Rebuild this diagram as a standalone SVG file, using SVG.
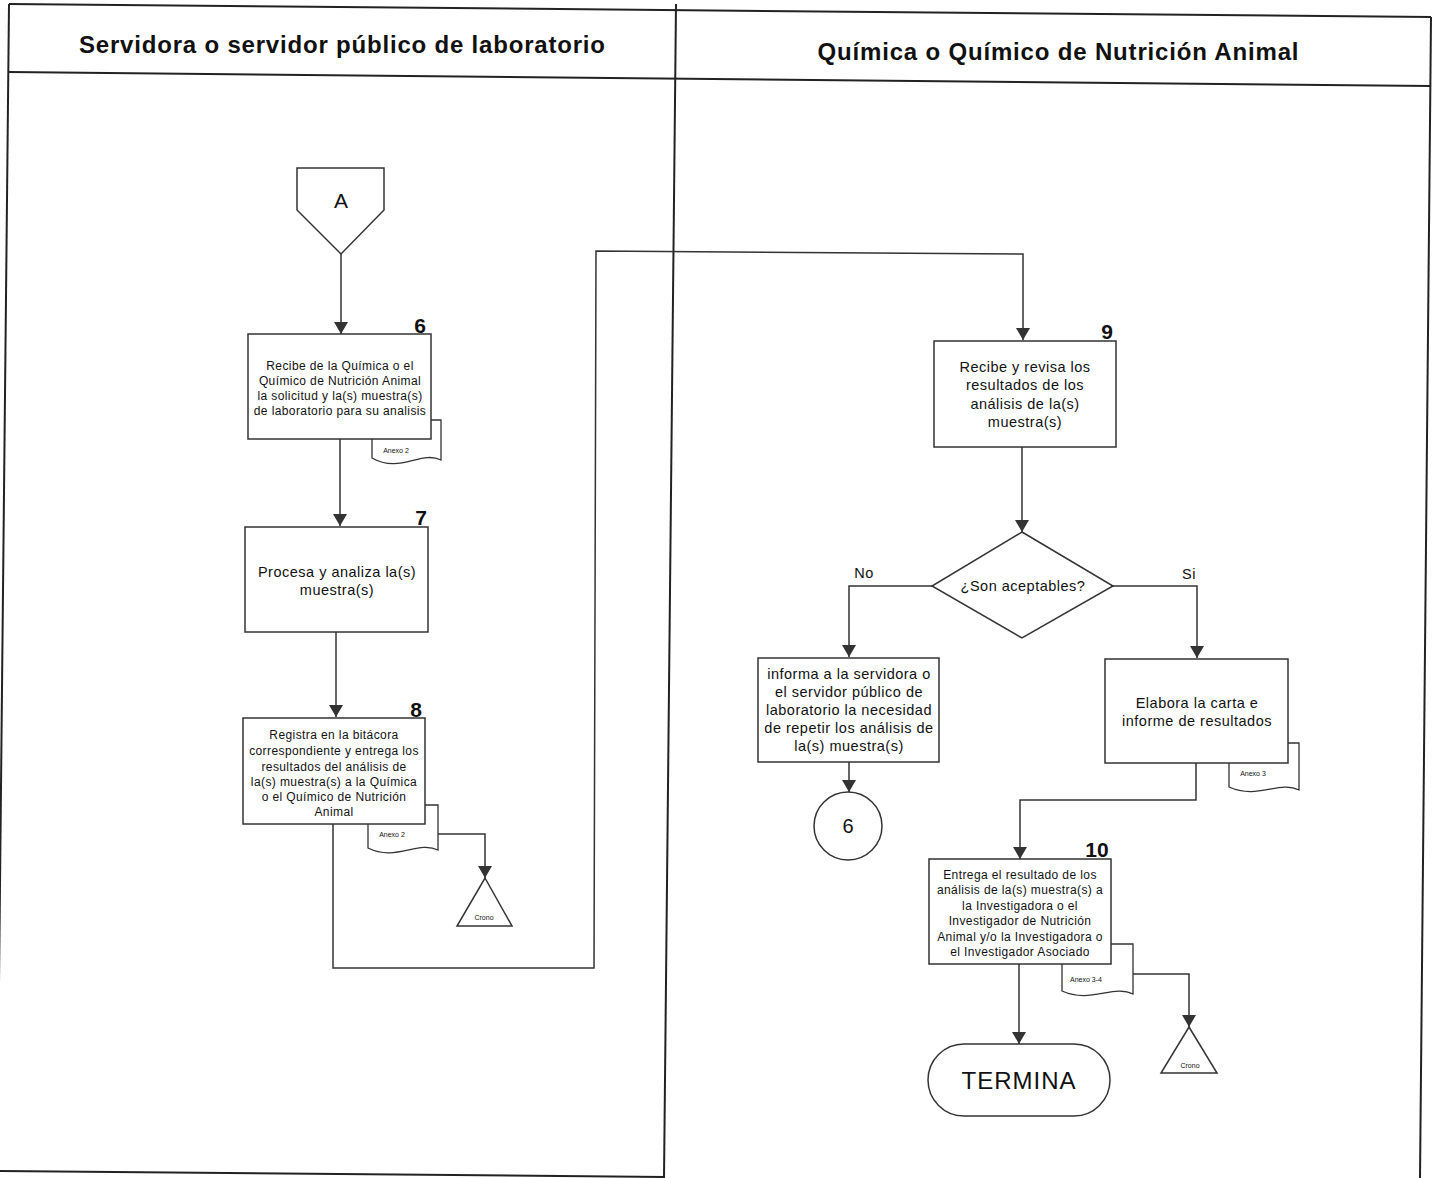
<svg xmlns="http://www.w3.org/2000/svg" width="1438" height="1178" viewBox="0 0 1438 1178">
<defs>
<marker id="arr" markerUnits="userSpaceOnUse" markerWidth="12" markerHeight="14" viewBox="0 0 12 14" refX="12" refY="7" orient="auto">
<path d="M0,0 L12,7 L0,14 z" fill="#333"/>
</marker>
</defs>
<style>
.frame{stroke:#222;stroke-width:2;fill:none}
.box{fill:#fff;stroke:#333;stroke-width:1.5}
.doc{fill:#fff;stroke:#333;stroke-width:1.3}
.conn{fill:none;stroke:#333;stroke-width:1.5}
.arr{marker-end:url(#arr)}
text{font-family:"Liberation Sans",Arial,sans-serif;fill:#111;text-anchor:middle}
.title{font-size:24px;font-weight:bold}
.num{font-size:21px;font-weight:bold}
.t12{font-size:12px;letter-spacing:0.4px}
.t14{font-size:14.5px;letter-spacing:0.5px}
.tiny{font-size:7px}
</style>
<rect x="0" y="0" width="1438" height="1178" fill="#fff"/>
<g id="frame">
<line class="frame" x1="9" y1="4" x2="1431" y2="17"/>
<line class="frame" x1="9" y1="72" x2="1431" y2="86"/>
<line class="frame" x1="9" y1="4" x2="-3" y2="1178"/>
<line class="frame" x1="1431" y1="17" x2="1420" y2="1178"/>
<line class="frame" x1="676" y1="4" x2="664" y2="1178"/>
<line class="frame" x1="0" y1="1171" x2="664" y2="1177"/>
<text class="title" x="342" y="53" textLength="526" lengthAdjust="spacing">Servidora o servidor público de laboratorio</text>
<text class="title" x="1058" y="60" textLength="481" lengthAdjust="spacing">Química o Químico de Nutrición Animal</text>
</g>
<g id="connectors">
<line class="conn arr" x1="341" y1="254" x2="341" y2="334"/>
<line class="conn arr" x1="340" y1="439" x2="340" y2="526"/>
<line class="conn arr" x1="336" y1="632" x2="336" y2="717"/>
<polyline class="conn arr" points="438,834 485,834 485,878"/>
<polyline class="conn arr" points="333,824 333,968 594,968 596,251 1023,254 1023,340"/>
<line class="conn arr" x1="1022" y1="447" x2="1022" y2="532"/>
<polyline class="conn arr" points="932,586 849,586 849,657"/>
<polyline class="conn arr" points="1113,586 1197,586 1197,658"/>
<line class="conn arr" x1="849" y1="762" x2="849" y2="792"/>
<polyline class="conn arr" points="1196,763 1196,800 1020,800 1020,859"/>
<polyline class="conn arr" points="1133,974 1189,974 1189,1027"/>
<line class="conn arr" x1="1019" y1="964" x2="1019" y2="1044"/>
<text class="t14" x="864" y="578">No</text>
<text class="t14" x="1189" y="579">Si</text>
</g>
<g id="nodeA">
<polygon class="box" points="297,168 384,168 384,210 341,254 297,210"/>
<text x="341" y="208" style="font-size:21px">A</text>
</g>
<g id="node6">
<path class="doc" d="M372,420 H441 V460 C421,450 400,474 372,458 Z"/>
<text class="tiny" x="396" y="453">Anexo 2</text>
<rect class="box" x="248" y="334" width="183" height="105"/>
<text class="num" x="420" y="333">6</text>
<text class="t12" x="340" y="370">Recibe de la Química o el</text>
<text class="t12" x="340" y="385">Químico de Nutrición Animal</text>
<text class="t12" x="340" y="400">la solicitud y la(s) muestra(s)</text>
<text class="t12" x="340" y="415">de laboratorio para su analisis</text>
</g>
<g id="node7">
<rect class="box" x="245" y="527" width="183" height="105"/>
<text class="num" x="421" y="525">7</text>
<text class="t14" x="337" y="577">Procesa y analiza la(s)</text>
<text class="t14" x="337" y="595">muestra(s)</text>
</g>
<g id="node8">
<path class="doc" d="M368,805 H438 V850 C418,840 396,862 368,848 Z"/>
<text class="tiny" x="392" y="837">Anexo 2</text>
<rect class="box" x="243" y="718" width="182" height="106"/>
<text class="num" x="416" y="717">8</text>
<text class="t12" x="334" y="739">Registra en la bitácora</text>
<text class="t12" x="334" y="755">correspondiente y entrega los</text>
<text class="t12" x="334" y="771">resultados del análisis de</text>
<text class="t12" x="334" y="786">la(s) muestra(s) a la Química</text>
<text class="t12" x="334" y="801">o el Químico de Nutrición</text>
<text class="t12" x="334" y="816">Animal</text>
</g>
<g id="crono1">
<polygon class="box" points="485,878 512,926 457,926"/>
<text class="tiny" x="484" y="920">Crono</text>
</g>
<g id="node9">
<rect class="box" x="934" y="341" width="182" height="106"/>
<text class="num" x="1107" y="339">9</text>
<text class="t14" x="1025" y="372">Recibe y revisa los</text>
<text class="t14" x="1025" y="390">resultados de los</text>
<text class="t14" x="1025" y="409">análisis de la(s)</text>
<text class="t14" x="1025" y="427">muestra(s)</text>
</g>
<g id="decision">
<polygon class="box" points="1022,532 1113,586 1022,638 932,586"/>
<text class="t14" x="1023" y="591">¿Son aceptables?</text>
</g>
<g id="nodeNo">
<rect class="box" x="758" y="658" width="181" height="104"/>
<text class="t14" x="849" y="679">informa a la servidora o</text>
<text class="t14" x="849" y="697">el servidor público de</text>
<text class="t14" x="849" y="715">laboratorio la necesidad</text>
<text class="t14" x="849" y="733">de repetir los análisis de</text>
<text class="t14" x="849" y="751">la(s) muestra(s)</text>
</g>
<g id="circle6">
<circle class="box" cx="848" cy="826" r="34"/>
<text x="848" y="833" style="font-size:20px">6</text>
</g>
<g id="nodeSi">
<path class="doc" d="M1229,743 H1299 V790 C1279,780 1258,800 1229,787 Z"/>
<text class="tiny" x="1253" y="776">Anexo 3</text>
<rect class="box" x="1105" y="659" width="183" height="104"/>
<text class="t14" x="1197" y="708">Elabora la carta e</text>
<text class="t14" x="1197" y="726">informe de resultados</text>
</g>
<g id="node10">
<path class="doc" d="M1062,944 H1133 V994 C1113,984 1091,1004 1062,991 Z"/>
<text class="tiny" x="1086" y="982">Anexo 3-4</text>
<rect class="box" x="929" y="859" width="182" height="105"/>
<text class="num" x="1097" y="857">10</text>
<text class="t12" x="1020" y="879">Entrega el resultado de los</text>
<text class="t12" x="1020" y="894">análisis de la(s) muestra(s) a</text>
<text class="t12" x="1020" y="910">la Investigadora o el</text>
<text class="t12" x="1020" y="925">Investigador de Nutrición</text>
<text class="t12" x="1020" y="941">Animal y/o la Investigadora o</text>
<text class="t12" x="1020" y="956">el Investigador Asociado</text>
</g>
<g id="crono2">
<polygon class="box" points="1189,1027 1217,1073 1161,1073"/>
<text class="tiny" x="1190" y="1068">Crono</text>
</g>
<g id="termina">
<rect class="box" x="928" y="1044" width="182" height="72" rx="36" ry="36"/>
<text x="1019" y="1089" style="font-size:24px;letter-spacing:1px">TERMINA</text>
</g>
</svg>
